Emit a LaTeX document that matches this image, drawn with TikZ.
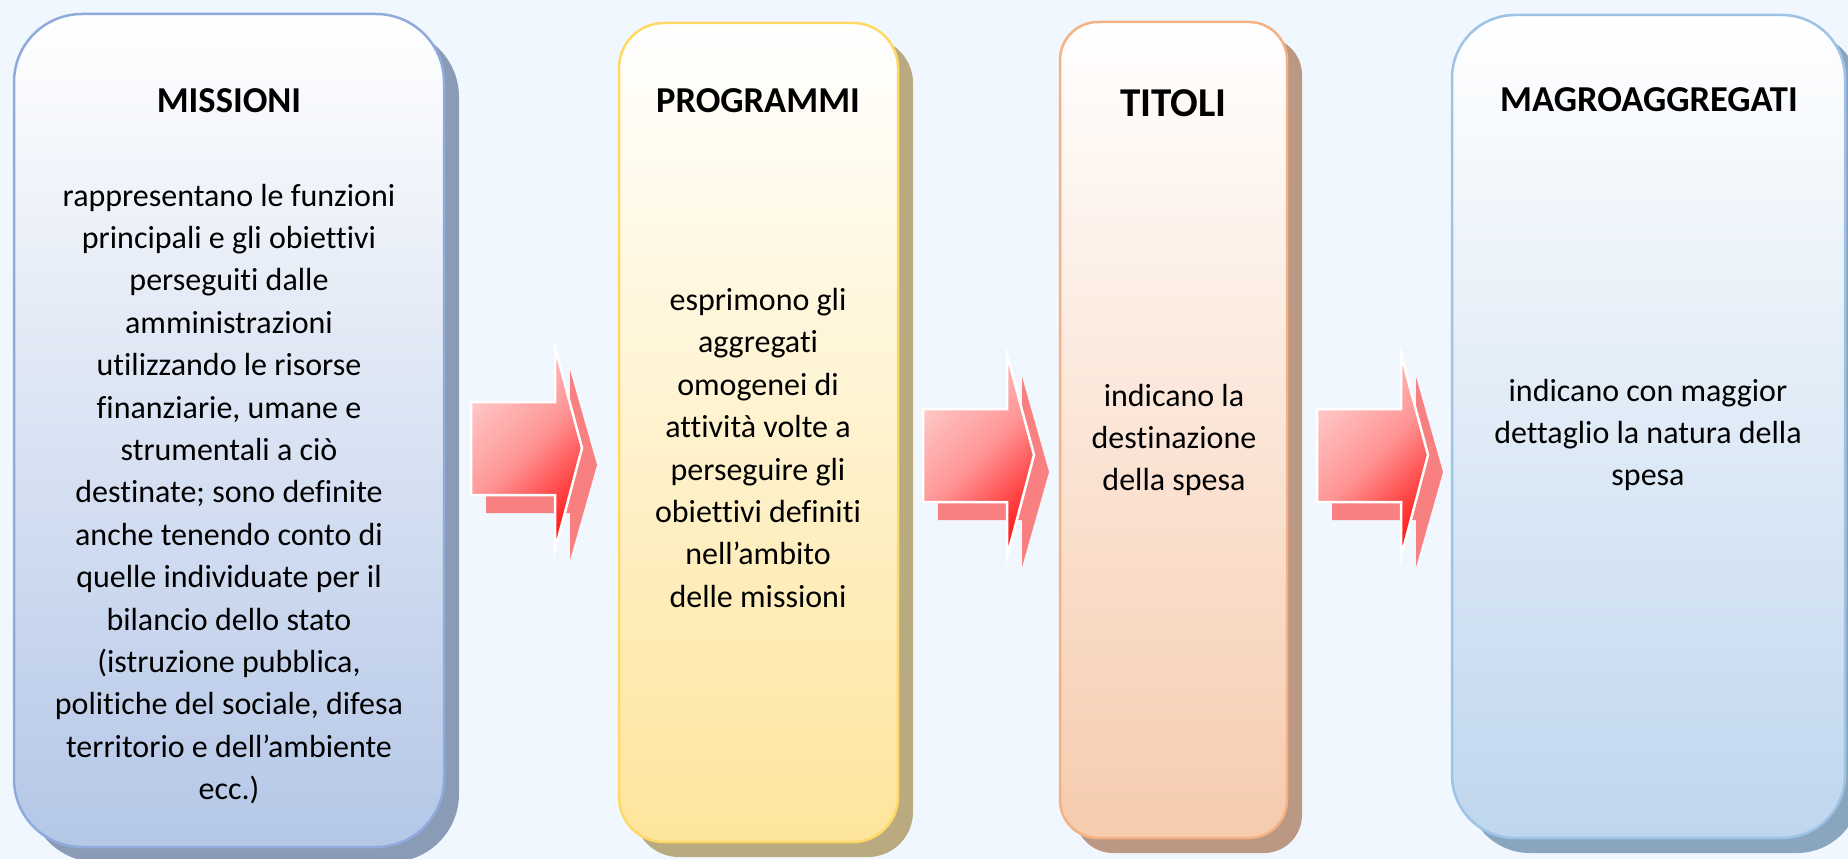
\documentclass[tikz,border=0pt]{standalone}
\usepackage{fontspec}
\setmainfont{Carlito}[Ligatures={NoCommon,NoContextual}]
\usetikzlibrary{shadows}
\definecolor{bgc}{RGB}{240,247,254}
\definecolor{fillA}{RGB}{180,199,231}
\definecolor{lineA}{RGB}{143,170,220}
\definecolor{shadA}{RGB}{138,156,181}
\definecolor{fillB}{RGB}{254,229,156}
\definecolor{lineB}{RGB}{255,217,102}
\definecolor{shadB}{RGB}{185,170,128}
\definecolor{fillC}{RGB}{246,203,174}
\definecolor{lineC}{RGB}{244,177,131}
\definecolor{shadC}{RGB}{186,152,131}
\definecolor{fillD}{RGB}{191,214,238}
\definecolor{lineD}{RGB}{157,195,230}
\definecolor{shadD}{RGB}{138,165,190}
\definecolor{arrLight}{RGB}{255,204,204}
\definecolor{arrMid}{RGB}{255,150,150}
\definecolor{arrDark}{RGB}{255,32,32}
\definecolor{arrShad}{RGB}{249,128,128}
\tikzset{
  panel/.style n args={4}{draw=#2, line width=2.5pt, top color=white, bottom color=#1,
    rounded corners=#4, inner sep=0pt, outer sep=0pt,
    drop shadow={shadow xshift=15pt, shadow yshift=-15pt, fill=#3, opacity=1}},
  title/.style={font=\bfseries\fontsize{36.5}{44}\selectfont, inner sep=0pt},
  bigtitle/.style={font=\bfseries\fontsize{41}{48}\selectfont, inner sep=0pt},
  body/.style={font=\fontsize{32}{42.4}\selectfont, align=center, inner sep=0pt},
  arrowmain/.style={draw=white, line width=2.5pt, top color=arrLight, bottom color=arrDark,
    middle color=arrMid, shading angle=45},
  arrowshadow/.style={fill=arrShad},
  bigarrow/.pic={
    \fill[arrowshadow] (486,419) -- (570,419) -- (570,370) -- (597,465) -- (570,560) -- (570,513) -- (486,513) -- cycle;
    \path[arrowmain] (471,402) -- (555,402) -- (555,347) -- (582,448) -- (555,550) -- (555,495) -- (471,495) -- cycle;
  }
}
\begin{document}
\begin{tikzpicture}[x=1pt,y=-1pt]
\useasboundingbox (0,0) rectangle (1848,859);
\clip (0,0) rectangle (1848,859);
\fill[bgc] (0,0) rectangle (1848,859);

% panels
\node[panel={fillA}{lineA}{shadA}{68pt}, minimum width=430pt, minimum height=833pt] (b1) at (229,430.5) {};
\node[panel={fillB}{lineB}{shadB}{45pt}, minimum width=279pt, minimum height=819pt] (b2) at (758.5,432.5) {};
\node[panel={fillC}{lineC}{shadC}{38pt}, minimum width=227pt, minimum height=816pt] (b3) at (1173.5,430) {};
\node[panel={fillD}{lineD}{shadD}{63pt}, minimum width=393pt, minimum height=823pt] (b4) at (1648.5,426.5) {};

% arrows
\pic (arrowA) at (0,0) {bigarrow};
\pic (arrowB) at (452,7) {bigarrow};
\pic (arrowC) at (846,7) {bigarrow};

% titles
\node[title] (t1) at (229,101) {MISSIONI};
\node[title] (t2) at (758,101) {PROGRAMMI};
\node[bigtitle] (t3) at (1173.5,103) {TITOLI};
\node[title] (t4) at (1649,99.5) {MAGROAGGREGATI};

% bodies
\node[body] (d1) at (229,494) {rappresentano le funzioni\\principali e gli obiettivi\\perseguiti dalle\\amministrazioni\\utilizzando le risorse\\finanziarie, umane e\\strumentali a ciò\\destinate; sono definite\\anche tenendo conto di\\quelle individuate per il\\bilancio dello stato\\(istruzione pubblica,\\politiche del sociale, difesa\\territorio e dell’ambiente\\ecc.)};
\node[body] (d2) at (758,448) {esprimono gli\\aggregati\\omogenei di\\attività volte a\\perseguire gli\\obiettivi definiti\\nell’ambito\\delle missioni};
\node[body] (d3) at (1174,440) {indicano la\\destinazione\\della spesa};
\node[body] (d4) at (1648,435) {indicano con maggior\\dettaglio la natura della\\spesa};
\end{tikzpicture}
\end{document}
